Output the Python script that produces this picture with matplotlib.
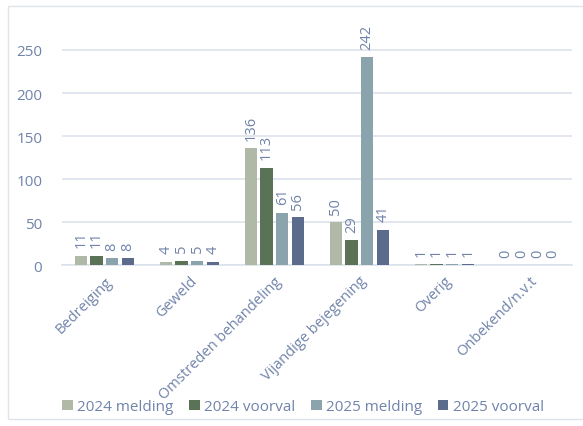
import matplotlib.pyplot as plt
import numpy as np
from matplotlib.patches import Rectangle

categories = ["Bedreiging", "Geweld", "Omstreden behandeling",
              "Vijandige bejegening", "Overig", "Onbekend/n.v.t"]
series_names = ["2024 melding", "2024 voorval", "2025 melding", "2025 voorval"]
melding_2024 = [11, 4, 136, 50, 1, 0]
voorval_2024 = [11, 5, 113, 29, 1, 0]
melding_2025 = [8, 5, 61, 242, 1, 0]
voorval_2025 = [8, 4, 56, 41, 1, 0]
y_ticks = [0, 50, 100, 150, 200, 250]

colors = ["#b0b9a5", "#5a7356", "#8aa3ad", "#5a6b8c"]
text_color = "#7083aa"
grid_color = "#dde3ec"

plt.rcParams["font.family"] = ["Open Sans", "DejaVu Sans"]

fig = plt.figure(figsize=(5.83, 4.27), dpi=100)
ax = fig.add_axes([0.106, 0.377, 0.875, 0.564])

# light frame round the whole chart
fig.patches.append(Rectangle((8 / 583, 7 / 427), 1.2, 413 / 427,
                             transform=fig.transFigure, fill=False,
                             edgecolor="#dfe3ea", linewidth=1.0))

x = np.arange(len(categories))
step = 0.185
width = 0.145
all_series = [melding_2024, voorval_2024, melding_2025, voorval_2025]
for i, (vals, name, col) in enumerate(zip(all_series, series_names, colors)):
    pos = x + (i - 1.5) * step
    ax.bar(pos, vals, width=width, color=col, label=name, zorder=3)
    for p, v in zip(pos, vals):
        ax.annotate(str(v), (p, v), xytext=(0, 6), textcoords="offset points",
                    rotation=90, ha="center", va="bottom", fontsize=10.5,
                    color=text_color, annotation_clip=False)

ax.set_xlim(-0.5, len(categories) - 0.5)
ax.set_ylim(0, 280)
ax.set_yticks(y_ticks)
ax.set_yticklabels([str(t) for t in y_ticks], fontsize=11, color=text_color)
ax.yaxis.grid(True, color=grid_color, linewidth=1.2, zorder=0)
ax.set_axisbelow(True)
ax.tick_params(axis="y", length=0, pad=14)
ax.tick_params(axis="x", length=0, pad=6)
ax.set_xticks(x)
ax.set_xticklabels(categories, rotation=45, ha="right", rotation_mode="anchor",
                   fontsize=10.5, color=text_color)
for s in ["top", "right", "left"]:
    ax.spines[s].set_visible(False)
ax.spines["bottom"].set_color(grid_color)
ax.spines["bottom"].set_linewidth(1.2)

leg = fig.legend(loc="center", bbox_to_anchor=(0.52, 0.045), ncol=4,
                 frameon=False, fontsize=11, handlelength=0.7, handleheight=0.7,
                 handletextpad=0.3, columnspacing=1.0)
for t in leg.get_texts():
    t.set_color(text_color)

fig.savefig("out.png", dpi=100)
